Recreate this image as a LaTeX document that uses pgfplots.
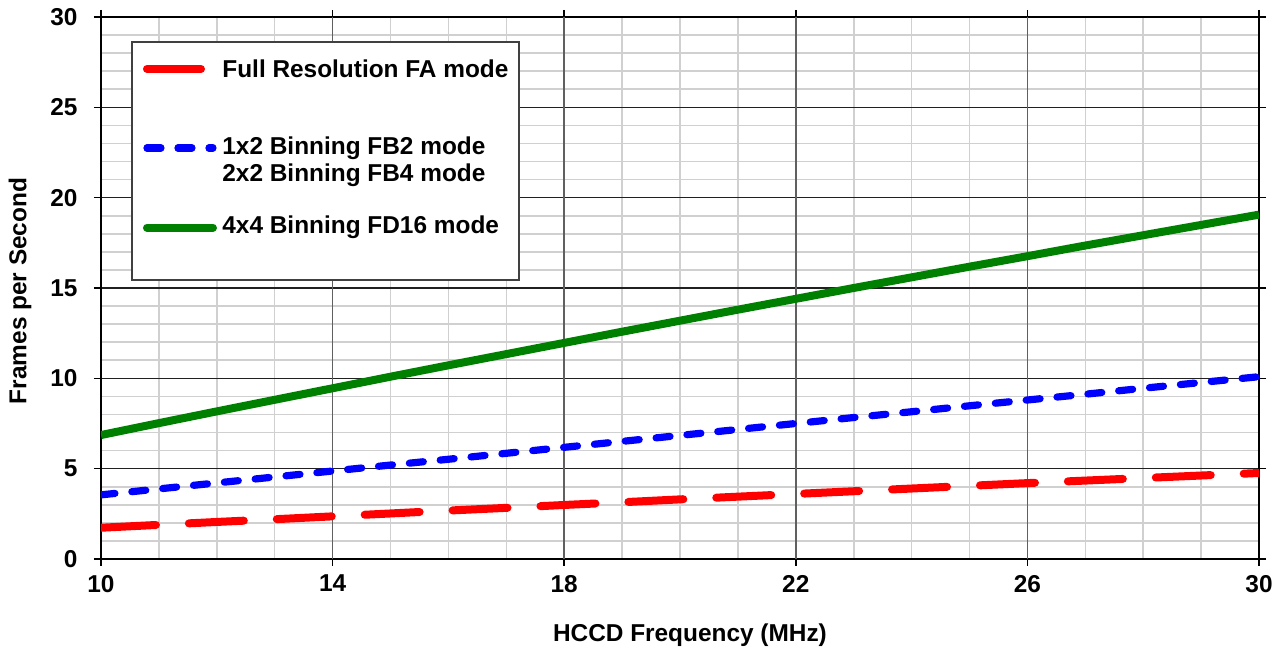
\documentclass[border=0pt]{standalone}
\usepackage{pgfplots}
\pgfplotsset{compat=1.18}
\usepackage{fontspec}
\setmainfont{Liberation Sans}
\definecolor{minorgrid}{HTML}{D0D0D0}
\definecolor{majxgrid}{HTML}{606060}
\definecolor{majygrid}{HTML}{202020}
\definecolor{lgborder}{HTML}{404040}
\definecolor{cgreen}{RGB}{0,128,0}
\pgfplotstableread{
x red blue green
10 1.73 3.55 6.86
11 1.89 3.88 7.52
12 2.05 4.21 8.17
13 2.20 4.54 8.81
14 2.36 4.87 9.45
15 2.52 5.20 10.09
16 2.68 5.52 10.72
17 2.83 5.85 11.34
18 2.99 6.18 11.96
19 3.14 6.51 12.58
20 3.30 6.84 13.19
21 3.45 7.17 13.80
22 3.60 7.50 14.40
23 3.75 7.83 15.00
24 3.90 8.15 15.59
25 4.05 8.48 16.18
26 4.20 8.80 16.76
27 4.34 9.12 17.35
28 4.48 9.45 17.92
29 4.62 9.77 18.49
30 4.76 10.09 19.06
}\datatable
\newcommand{\lf}{\bfseries\fontsize{12.2}{14}\selectfont}
\begin{document}
\begin{tikzpicture}
\begin{axis}[
  scale only axis,
  width=579pt, height=271pt,
  xmin=10, xmax=30, ymin=0, ymax=30,
  xtick={10,14,18,22,26,30},
  ytick={0,5,10,15,20,25,30},
  minor xtick={11,12,13,15,16,17,19,20,21,23,24,25,27,28,29},
  minor ytick={1,2,3,4,6,7,8,9,11,12,13,14,16,17,18,19,21,22,23,24,26,27,28,29},
  grid=both,
  minor grid style={minorgrid, line width=0.8pt},
  major x grid style={draw=none},
  major y grid style={majygrid, line width=0.6pt},
  extra x ticks={14,18,22,26},
  extra x tick labels={},
  extra x tick style={grid=major, major x grid style={draw=majxgrid, line width=0.8pt}, major grid style={draw=majxgrid, line width=0.8pt}, major tick length=0pt},
  axis line style={black, line width=1.1pt},
  tick align=outside,
  major tick length=3.5pt,
  minor tick length=0pt,
  major tick style={black, line width=0.8pt},
  tick label style={font=\lf},
  /pgf/number format/assume math mode=true,
  xticklabel style={yshift=-1pt},
  yticklabel style={xshift=-4.7pt},
  xlabel={HCCD Frequency (MHz)},
  ylabel={Frames per Second},
  label style={font=\lf},
  xlabel style={at={(axis description cs:0.5086,-0.1402)}, anchor=center},
  ylabel style={at={(axis description cs:-0.0699,0.4945)}, anchor=center},
]
\addplot[red, line width=4pt, line cap=round, dash pattern=on 27.5pt off 16.5pt] table[x=x, y=red] {\datatable};
\addplot[blue, line width=3.6pt, line cap=round, dash pattern=on 7pt off 8.5pt] table[x=x, y=blue] {\datatable};
\addplot[cgreen, line width=4pt] table[x=x, y=green] {\datatable};
% legend
\filldraw[fill=white, draw=lgborder, line width=0.8pt] (axis cs:10.535,28.616) rectangle (axis cs:17.219,15.443);
\draw[red, line width=4pt, line cap=round] (axis cs:10.794,27.12) -- (axis cs:11.727,27.12);
\draw[blue, line width=3.6pt, line cap=round, dash pattern=on 7pt off 8.5pt] (axis cs:10.794,22.75) -- (axis cs:11.934,22.75);
\draw[cgreen, line width=4pt, line cap=round] (axis cs:10.794,18.34) -- (axis cs:11.934,18.34);
\node[anchor=west, inner sep=0pt, font=\lf] at (axis cs:12.09,27.12) {Full Resolution FA mode};
\node[anchor=west, inner sep=0pt, font=\lf] at (axis cs:12.09,22.75) {1x2 Binning FB2 mode};
\node[anchor=west, inner sep=0pt, font=\lf] at (axis cs:12.09,21.23) {2x2 Binning FB4 mode};
\node[anchor=west, inner sep=0pt, font=\lf] at (axis cs:12.09,18.34) {4x4 Binning FD16 mode};
\end{axis}
\pgfresetboundingbox
\path ([shift={(-50.5pt,-48.5pt)}]current axis.south west) rectangle ([shift={(13.5pt,8.5pt)}]current axis.north east);
\end{tikzpicture}
\end{document}
